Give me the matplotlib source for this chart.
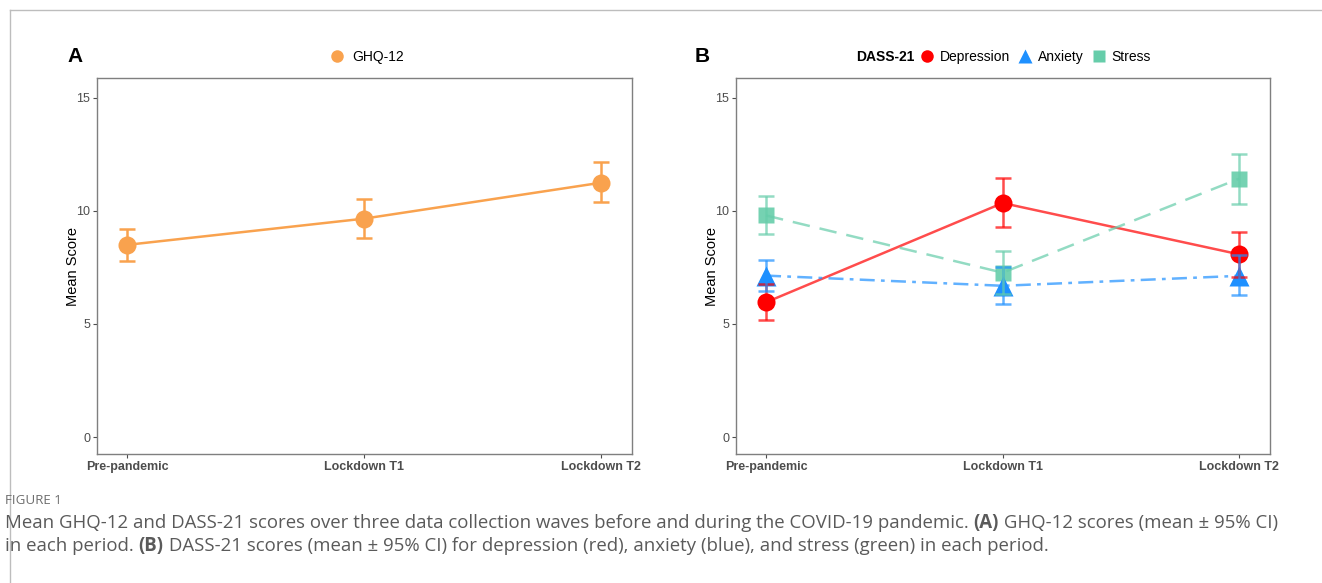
import matplotlib
matplotlib.use("Agg")
import matplotlib.pyplot as plt
from matplotlib.lines import Line2D
import numpy as np

# ---------------- data ----------------
periods = ["Pre-pandemic", "Lockdown T1", "Lockdown T2"]

ghq_mean = [8.5, 9.66, 11.25]
ghq_low = [7.78, 8.80, 10.38]
ghq_high = [9.20, 10.51, 12.15]

dep_mean = [5.96, 10.35, 8.08]
dep_low = [5.17, 9.28, 7.07]
dep_high = [6.76, 11.44, 9.09]

anx_mean = [7.14, 6.69, 7.13]
anx_low = [6.44, 5.87, 6.28]
anx_high = [7.83, 7.51, 8.03]

str_mean = [9.80, 7.27, 11.43]
str_low = [9.00, 6.33, 10.30]
str_high = [10.67, 8.21, 12.54]

yticks = [0, 5, 10, 15]

# ---------------- style ----------------
plt.rcParams['font.family'] = ['Liberation Sans', 'DejaVu Sans']

W, H = 1322, 583
fig = plt.figure(figsize=(W / 100, H / 100), dpi=100)

def fx(px):
    return px / W

def fy(py):
    return 1 - py / H

axA = fig.add_axes([fx(97), fy(454), fx(632) - fx(97), fy(78) - fy(454)])
axB = fig.add_axes([fx(736), fy(454), fx(1270) - fx(736), fy(78) - fy(454)])

x = np.arange(1, len(periods) + 1)

ORANGE = "#F9A24E"
RED = "#FF0000"
BLUE = "#1E90FF"
GREEN = "#66CDAA"


def style_axes(ax):
    ax.set_xlim(0.873, 3.13)
    ax.set_ylim(-0.75, 15.88)
    ax.set_yticks(yticks)
    ax.set_yticklabels([str(t) for t in yticks], color="#4D4D4D", fontsize=9)
    ax.set_xticks(x)
    ax.set_xticklabels(periods, fontweight="bold", color="#4D4D4D", fontsize=9)
    for s in ax.spines.values():
        s.set_color("#7F7F7F")
        s.set_linewidth(1.0)
    ax.tick_params(axis="both", length=3, width=0.8, color="#4D4D4D", pad=2)
    ax.set_ylabel("Mean Score", fontsize=10.5, color="black", labelpad=-3)


def errbars(ax, mean, low, high, color, alpha, z):
    m = np.array(mean)
    yerr = [m - np.array(low), np.array(high) - m]
    ax.errorbar(x, m, yerr=yerr, fmt="none", ecolor=color, elinewidth=1.8,
                capsize=5.5, capthick=1.8, alpha=alpha, zorder=z)


# ---------------- panel A ----------------
style_axes(axA)
axA.plot(x, ghq_mean, color=ORANGE, lw=1.8, zorder=2)
errbars(axA, ghq_mean, ghq_low, ghq_high, ORANGE, 1.0, 3)
axA.plot(x, ghq_mean, "o", color=ORANGE, ms=13, zorder=4, mec="none")

legA = axA.legend(handles=[Line2D([], [], marker="o", ls="none", color=ORANGE,
                                  ms=9, mec="none", label="GHQ-12")],
                  loc="center", bbox_to_anchor=(fx(364), fy(57)),
                  bbox_transform=fig.transFigure, frameon=False,
                  fontsize=10, handletextpad=0.1, borderpad=0)

# ---------------- panel B ----------------
style_axes(axB)
axB.plot(x, dep_mean, color=RED, lw=1.8, alpha=0.7, zorder=2)
axB.plot(x, anx_mean, color=BLUE, lw=1.8, alpha=0.7, zorder=2,
         dashes=(6, 2.5, 1.5, 2.5))
axB.plot(x, str_mean, color=GREEN, lw=1.8, alpha=0.7, zorder=2,
         dashes=(7, 4))

axB.plot(x, dep_mean, "o", color=RED, ms=13, mec="none", zorder=4)
axB.plot(x, str_mean, "s", color=GREEN, ms=12, mec="none", alpha=0.9, zorder=4)
axB.plot(x, anx_mean, "^", color=BLUE, ms=14, mec="none", zorder=4)

errbars(axB, dep_mean, dep_low, dep_high, RED, 0.7, 5)
errbars(axB, anx_mean, anx_low, anx_high, BLUE, 0.7, 5)
errbars(axB, str_mean, str_low, str_high, GREEN, 0.7, 5)

handlesB = [
    Line2D([], [], marker="o", ls="none", color=RED, ms=9, mec="none", label="Depression"),
    Line2D([], [], marker="^", ls="none", color=BLUE, ms=10, mec="none", label="Anxiety"),
    Line2D([], [], marker="s", ls="none", color=GREEN, ms=8.5, mec="none", label="Stress"),
]
legB = axB.legend(handles=handlesB, loc="center left",
                  bbox_to_anchor=(fx(909), fy(57)),
                  bbox_transform=fig.transFigure, frameon=False, ncol=3,
                  fontsize=10, handletextpad=0.1, columnspacing=0.3,
                  borderpad=0, handlelength=1.6)
fig.text(fx(856), fy(57), "DASS-21", fontsize=10, fontweight="bold",
         ha="left", va="center")

# panel letters
fig.text(fx(67), fy(57), "A", fontsize=15, fontweight="bold", ha="left", va="center")
fig.text(fx(695), fy(57), "B", fontsize=15, fontweight="bold", ha="left", va="center")

# ---------------- frame lines ----------------
fig.add_artist(Line2D([fx(10), 1], [fy(10), fy(10)], color="#BDBDBD", lw=1,
                      transform=fig.transFigure))
fig.add_artist(Line2D([fx(10), fx(10)], [fy(10), 0], color="#BDBDBD", lw=1,
                      transform=fig.transFigure))

# ---------------- caption ----------------
cap_font = ['Open Sans', 'DejaVu Sans']
CAP_COLOR = "#5A5A5A"
CAP_SIZE = 13.45
fig.text(fx(5), fy(501), "FIGURE 1", fontsize=9.6, color="#6E6E6E",
         family=cap_font, ha="left", va="center")

fig.canvas.draw()
renderer = fig.canvas.get_renderer()


def caption_line(parts, px, py):
    cur = fx(px)
    for txt, bold in parts:
        tt = fig.text(cur, fy(py), txt, fontsize=CAP_SIZE, color=CAP_COLOR,
                      family=cap_font, fontweight="bold" if bold else "normal",
                      ha="left", va="center")
        bb = tt.get_window_extent(renderer=renderer)
        cur += bb.width / fig.bbox.width


caption_line([("Mean GHQ-12 and DASS-21 scores over three data collection waves before and during "
               "the COVID-19 pandemic. ", False), ("(A)", True),
              (" GHQ-12 scores (mean \u00b1 95% CI)", False)], 5, 523)
caption_line([("in each period. ", False), ("(B)", True),
              (" DASS-21 scores (mean \u00b1 95% CI) for depression (red), anxiety (blue), and "
               "stress (green) in each period.", False)], 5, 546)

fig.savefig("out.png", dpi=100, facecolor="white")
